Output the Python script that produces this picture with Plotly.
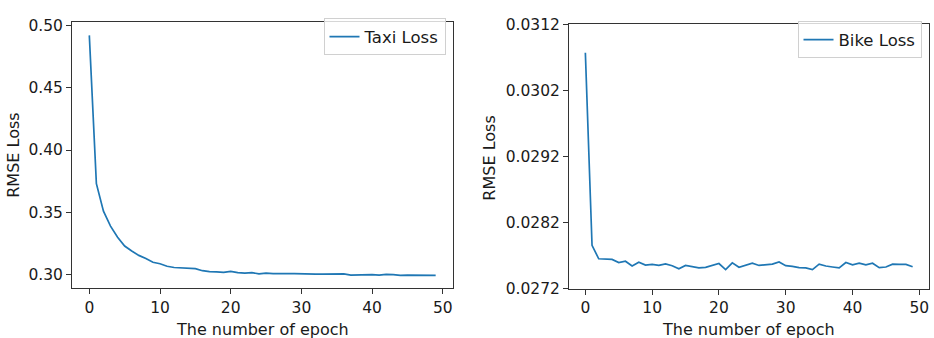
import plotly.graph_objects as go

epochs = list(range(50))

taxi_loss = [0.492, 0.373, 0.351, 0.339, 0.330, 0.323, 0.319, 0.3155, 0.313, 0.310,
             0.3088, 0.3068, 0.3058, 0.3055, 0.3050, 0.3048, 0.3032, 0.3024, 0.3022, 0.3019,
             0.3026, 0.3016, 0.3013, 0.3017, 0.3006, 0.3012, 0.3009, 0.3011, 0.3009, 0.3008,
             0.3009, 0.3008, 0.3005, 0.3004, 0.3004, 0.3005, 0.3006, 0.2997, 0.2999, 0.2999,
             0.3000, 0.2996, 0.3002, 0.3001, 0.2994, 0.2997, 0.2996, 0.2994, 0.2993, 0.2994]

bike_loss = [0.030767, 0.027853, 0.027651, 0.027651, 0.027642, 0.027594, 0.027613, 0.027541, 0.027598, 0.027555,
             0.027565, 0.027550, 0.027574, 0.027546, 0.027498, 0.027550, 0.027531, 0.027512, 0.027522, 0.027555,
             0.027579, 0.027488, 0.027589, 0.027522, 0.027550, 0.027584, 0.027550, 0.027565, 0.027570, 0.027603,
             0.027546, 0.027536, 0.027517, 0.027512, 0.027488, 0.027570, 0.027541, 0.027526, 0.027512, 0.027594,
             0.027560, 0.027584, 0.027560, 0.027584, 0.027517, 0.027526, 0.027570, 0.027565, 0.027565, 0.027531]

x_ticks = [0, 10, 20, 30, 40, 50]
taxi_yticks = [0.30, 0.35, 0.40, 0.45, 0.50]
bike_yticks = [0.0272, 0.0282, 0.0292, 0.0302, 0.0312]

BLUE = "#1f77b4"
FONT = "DejaVu Sans"
W, H = 934, 338

fig = go.Figure()
fig.add_trace(go.Scatter(x=epochs, y=taxi_loss, mode="lines", name="Taxi Loss",
                         line=dict(color=BLUE, width=1.7), xaxis="x", yaxis="y", legend="legend"))
fig.add_trace(go.Scatter(x=epochs, y=bike_loss, mode="lines", name="Bike Loss",
                         line=dict(color=BLUE, width=1.7), xaxis="x2", yaxis="y2", legend="legend2"))

def px_x(p):
    return p / W

def px_y(p):
    return 1 - p / H

axis_common = dict(showline=True, linecolor="#333333", linewidth=1, mirror=True,
                   ticks="outside", ticklen=5, tickcolor="#333333", tickwidth=1,
                   showgrid=False, zeroline=False,
                   tickfont=dict(family=FONT, size=15.5, color="#1a1a1a"))

legend_common = dict(xanchor="right", yanchor="top",
                     bgcolor="rgba(255,255,255,0.8)", bordercolor="#d0d0d0", borderwidth=1,
                     font=dict(family=FONT, size=16.5, color="#1a1a1a"))

fig.update_layout(
    width=W, height=H,
    margin=dict(l=0, r=0, t=0, b=0),
    paper_bgcolor="white", plot_bgcolor="white",
    font=dict(family=FONT, color="#1a1a1a"),
    xaxis=dict(domain=[px_x(72), px_x(453)], range=[-2.45, 51.45], tickvals=x_ticks,
               anchor="y", **axis_common),
    yaxis=dict(domain=[px_y(295), px_y(14)], range=[0.2891, 0.5025], tickvals=taxi_yticks,
               tickformat=".2f", anchor="x", **axis_common),
    xaxis2=dict(domain=[px_x(569), px_x(929)], range=[-2.45, 51.45], tickvals=x_ticks,
                anchor="y2", **axis_common),
    yaxis2=dict(domain=[px_y(295.3), px_y(16)], range=[0.0272, 0.0312], tickvals=bike_yticks,
                tickformat=".4f", anchor="x2", **axis_common),
    legend=dict(x=px_x(445.5), y=px_y(10), **legend_common),
    legend2=dict(x=px_x(921.5), y=px_y(13), **legend_common),
    showlegend=True,
)

title_font = dict(family=FONT, size=16, color="#1a1a1a")
annotations = [
    dict(text="RMSE Loss", x=px_x(14), y=px_y(155), textangle=-90),
    dict(text="RMSE Loss", x=px_x(490), y=px_y(157), textangle=-90),
    dict(text="The number of epoch", x=px_x(262), y=px_y(338.5)),
    dict(text="The number of epoch", x=px_x(748), y=px_y(338.5)),
]
for a in annotations:
    fig.add_annotation(xref="paper", yref="paper", showarrow=False,
                       xanchor="center", yanchor="middle", font=title_font, **a)

fig.write_html("out.html",
               config={"displayModeBar": False},
               post_script="document.body.style.margin='0';document.body.style.overflow='hidden';")
